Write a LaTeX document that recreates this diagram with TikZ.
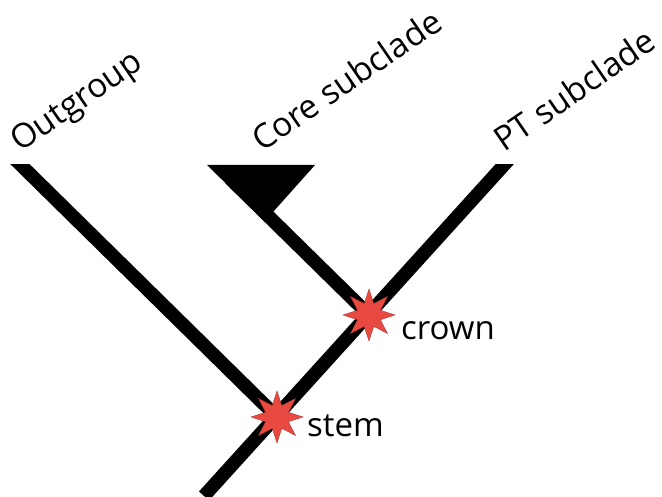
\documentclass[tikz,border=0pt]{standalone}
\usepackage{fontspec}
\setmainfont{Open Sans}
\usetikzlibrary{shapes.geometric}
\definecolor{starred}{HTML}{E84A42}
\begin{document}
\begin{tikzpicture}[x=1pt,y=-1pt,
  branch/.style={line width=13.5pt, line cap=butt},
  event/.style={star, star points=8, star point ratio=2.1, minimum size=52pt,
    inner sep=0pt, fill=starred, draw=starred!75!black, line width=0.4pt},
  cladelabel/.style={font=\fontsize{33.5}{40}\selectfont, anchor=base west, rotate=34.5, inner sep=0pt},
  eventlabel/.style={font=\fontsize{33}{40}\selectfont, anchor=base west, inner sep=0pt}]
  \useasboundingbox (0,0) rectangle (662,497);

  % branch points and tips
  \coordinate (root)    at (204,496);
  \coordinate (stem)    at (277,417);
  \coordinate (crown)   at (369,315);
  \coordinate (ptEnd)   at (517.5,150);
  \coordinate (outEnd)  at (5.6,150);
  \coordinate (coreEnd) at (230,178.4);

  % branches, cut flat at the tip level
  \begin{scope}
    \clip (0,165) rectangle (662,497);
    \draw[branch] (root) -- (ptEnd);
    \draw[branch] (outEnd) -- (stem);
    \draw[branch] (crown) -- (coreEnd);
    % collapsed core clade
    \fill (207,165) -- (315,165) -- (273,212) -- (262,219) -- cycle;
  \end{scope}

  % node events
  \node[event] (stemStar)  at (stem)  {};
  \node[event] (crownStar) at (crown) {};
  \node[eventlabel] (stemLbl)  at (307,436) {stem};
  \node[eventlabel] (crownLbl) at (401,340) {crown};

  % tip labels
  \node[cladelabel] (outLbl)  at (20,153)  {Outgroup};
  \node[cladelabel] (coreLbl) at (262,153) {Core subclade};
  \node[cladelabel] (ptLbl)   at (504,153) {PT subclade};
\end{tikzpicture}
\end{document}
